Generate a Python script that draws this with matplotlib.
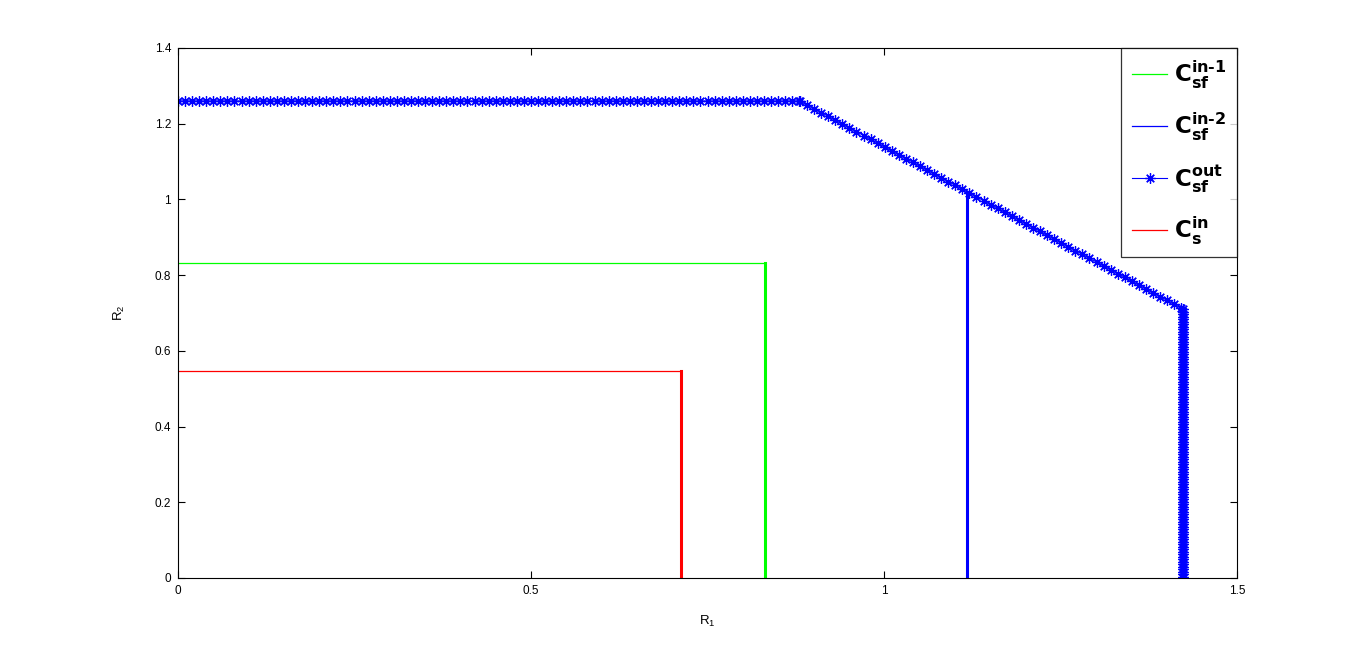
import numpy as np
import matplotlib
matplotlib.use("Agg")
import matplotlib.pyplot as plt

plt.rcParams['font.family'] = ['Liberation Sans', 'DejaVu Sans']
plt.rcParams['mathtext.fontset'] = 'custom'
plt.rcParams['mathtext.rm'] = 'Liberation Sans'
plt.rcParams['mathtext.bf'] = 'DejaVu Sans:bold'

# inner region corners (R1, R2)
csf_in1 = (0.832, 0.832)
csf_in2 = (1.118, 1.018)
cs_in = (0.713, 0.546)

# outer boundary corners
out_r1 = [0.0, 0.881, 1.424, 1.424]
out_r2 = [1.26, 1.26, 0.710, 0.0]
r_step = 0.01      # sampling step seen along flat/diagonal parts
r2_step = 0.0066   # sampling step seen along the vertical part

labels = [r'$\mathbf{C}^{\mathbf{in‐1}}_{\mathbf{sf}}$',
          r'$\mathbf{C}^{\mathbf{in‐2}}_{\mathbf{sf}}$',
          r'$\mathbf{C}^{\mathbf{out}}_{\mathbf{sf}}$',
          r'$\mathbf{C}^{\mathbf{in}}_{\mathbf{s}}$']

# sample the outer boundary like the original rate loop
x1 = np.arange(out_r1[0], out_r1[1] + 1e-9, r_step)
y1 = np.full_like(x1, out_r2[0])
x2 = np.arange(out_r1[1], out_r1[2] + 1e-9, r_step)
y2 = np.interp(x2, [out_r1[1], out_r1[2]], [out_r2[1], out_r2[2]])
y3 = np.arange(out_r2[2], out_r2[3] - 1e-9, -r2_step)
x3 = np.full_like(y3, out_r1[3])
ox = np.concatenate([x1, x2, x3, [out_r1[3]]])
oy = np.concatenate([y1, y2, y3, [out_r2[3]]])

fig = plt.figure(figsize=(13.66, 6.5), dpi=100)
ax = fig.add_axes([178/1366, 72/650, 1059/1366, 530/650])

h1, = ax.plot([0, csf_in1[0]], [csf_in1[1], csf_in1[1]], color=(0, 1, 0), lw=0.9)
ax.plot([csf_in1[0], csf_in1[0]], [0, csf_in1[1]], color=(0, 1, 0), lw=2.2)
h2, = ax.plot([csf_in2[0], csf_in2[0]], [0, csf_in2[1]], color=(0, 0, 1), lw=2.2)
h3, = ax.plot(ox, oy, color=(0, 0, 1), lw=0.8, marker=(8, 2, 0), ms=7.5, mew=0.9)
h4, = ax.plot([0, cs_in[0]], [cs_in[1], cs_in[1]], color=(1, 0, 0), lw=0.9)
ax.plot([cs_in[0], cs_in[0]], [0, cs_in[1]], color=(1, 0, 0), lw=2.2)

ax.set_xlim(0, 1.5)
ax.set_ylim(0, 1.4)
ax.set_xticks([0, 0.5, 1, 1.5])
ax.set_xticklabels(['0', '0.5', '1', '1.5'])
ax.set_yticks(np.arange(0, 1.41, 0.2))
ax.set_yticklabels(['0', '0.2', '0.4', '0.6', '0.8', '1', '1.2', '1.4'])
ax.tick_params(direction='in', top=True, right=True, length=5, width=0.8,
               labelsize=8.5, pad=5)
for s in ax.spines.values():
    s.set_linewidth(0.8)

ax.set_xlabel('R$_1$', fontsize=9.5, labelpad=12)
ax.set_ylabel('R$_2$', fontsize=9.5, labelpad=20)

h2_leg = plt.Line2D([], [], color=(0, 0, 1), lw=0.9)
leg = ax.legend([h1, h2_leg, h3, h4], labels, loc='upper right', fontsize=16.5,
                frameon=True, fancybox=False, handlelength=1.55,
                borderaxespad=0, labelspacing=0.88, handletextpad=0.3,
                borderpad=0.45)
leg.get_frame().set_edgecolor('black')
leg.get_frame().set_linewidth(0.9)

fig.savefig('out.png', dpi=100)
